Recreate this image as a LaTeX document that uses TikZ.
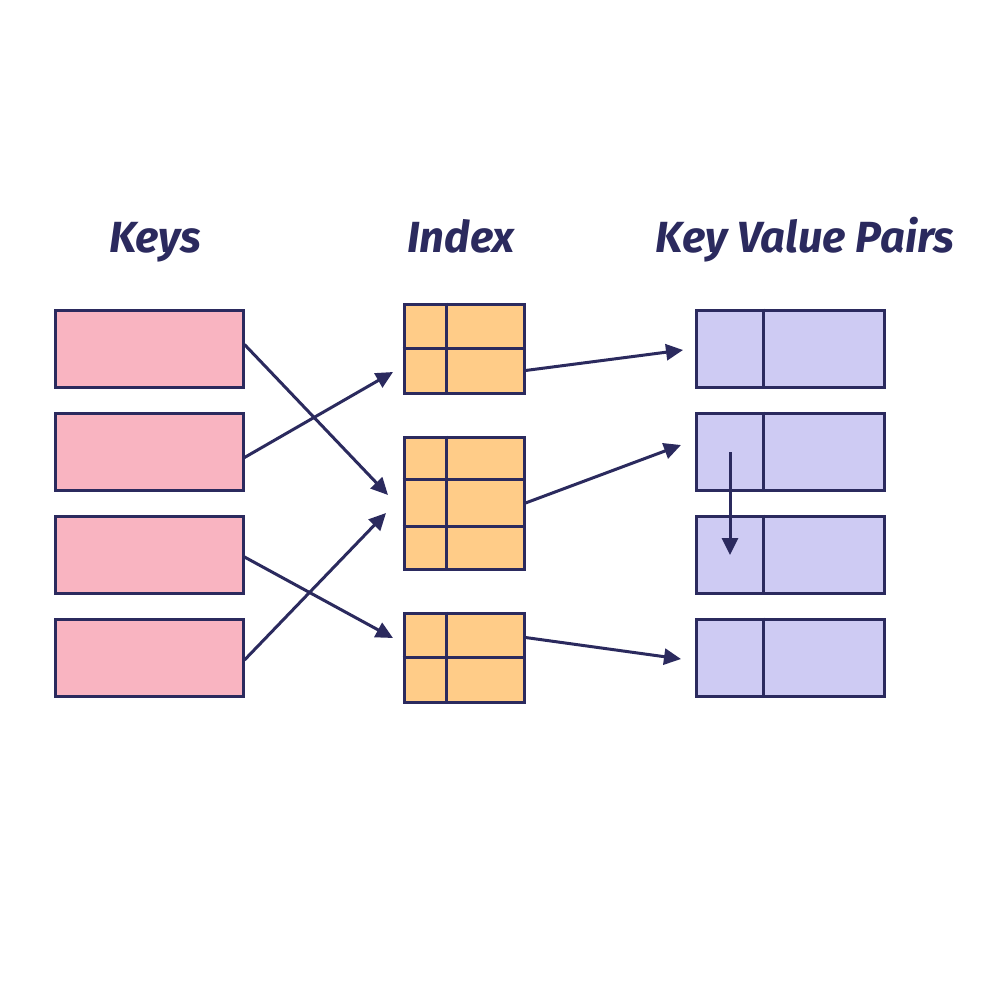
\documentclass[tikz,border=0pt]{standalone}
\usepackage{fontspec}
\setmainfont{Fira Sans}
\usetikzlibrary{arrows.meta}
\definecolor{navy}{HTML}{2B2A5E}
\definecolor{pinkf}{HTML}{F9B4C1}
\definecolor{orangef}{HTML}{FFCC88}
\definecolor{lavf}{HTML}{CECBF3}
\tikzset{
  box/.style={draw=navy, line width=1.5pt, inner sep=0pt, rectangle},
  keybox/.style={box, fill=pinkf, minimum width=94pt, minimum height=38.5pt},
  idxbox/.style={box, fill=orangef, minimum width=60pt},
  kvbox/.style={box, fill=lavf, minimum width=94pt, minimum height=38.5pt},
  divline/.style={draw=navy, line width=1.5pt},
  conn/.style={draw=navy, line width=1.5pt, -{Triangle[length=8.5pt,width=8pt]}},
  title/.style={text=navy, anchor=base, inner sep=0pt, font=\fontsize{21.8}{26}\selectfont\bfseries\itshape}
}
\begin{document}
\begin{tikzpicture}[x=0.5pt,y=-0.5pt]
\useasboundingbox[fill=white] (0,0) rectangle (1000,1000);
% titles
\node[title] (tk) at (155,252) {Keys};
\node[title] (ti) at (461,252) {Index};
\node[title] (tv) at (805,252) {Key Value Pairs};
% keys
\node[keybox] (k1) at (149,348.5) {};
\node[keybox] (k2) at (149,451.5) {};
\node[keybox] (k3) at (149,555) {};
\node[keybox] (k4) at (149,658) {};
% index
\node[idxbox, minimum height=44.5pt] (i1) at (464,348.5) {};
\node[idxbox, minimum height=66pt] (i2) at (464,503) {};
\node[idxbox, minimum height=44.5pt] (i3) at (464,657.5) {};
\draw[divline] ([xshift=22pt]i1.north west) -- ([xshift=22pt]i1.south west);
\draw[divline] (i1.west) -- (i1.east);
\draw[divline] ([xshift=22pt]i2.north west) -- ([xshift=22pt]i2.south west);
\draw[divline] ([yshift=-22pt]i2.north west) -- ([yshift=-22pt]i2.north east);
\draw[divline] ([yshift=22pt]i2.south west) -- ([yshift=22pt]i2.south east);
\draw[divline] ([xshift=22pt]i3.north west) -- ([xshift=22pt]i3.south west);
\draw[divline] (i3.west) -- (i3.east);
% key value pairs
\node[kvbox] (v1) at (790,348.5) {};
\node[kvbox] (v2) at (790,451.5) {};
\node[kvbox] (v3) at (790,554.5) {};
\node[kvbox] (v4) at (790,657.5) {};
\foreach \v in {v1,v2,v3,v4}{
  \draw[divline] ([xshift=34.5pt]\v.north west) -- ([xshift=34.5pt]\v.south west);
}
% arrow tips
\coordinate (a1) at (388,495);
\coordinate (a2) at (393,372);
\coordinate (a3) at (393,638);
\coordinate (a4) at (386,513);
\coordinate (b1) at (683,350);
\coordinate (b2) at (681,445);
\coordinate (b3) at (681,659);
\coordinate (cs) at (730,452);
\coordinate (ce) at (730,555);
% connectors
\draw[conn] ([yshift=2pt]k1.east) -- (a1);
\draw[conn] ([yshift=-3pt]k2.east) -- (a2);
\draw[conn] ([yshift=-1pt]k3.east) -- (a3);
\draw[conn] ([yshift=-1pt]k4.east) -- (a4);
\draw[conn] ([yshift=-11pt]i1.east) -- (b1);
\draw[conn] (i2.east) -- (b2);
\draw[conn] ([yshift=10pt]i3.east) -- (b3);
\draw[conn] (cs) -- (ce);
\end{tikzpicture}
\end{document}
